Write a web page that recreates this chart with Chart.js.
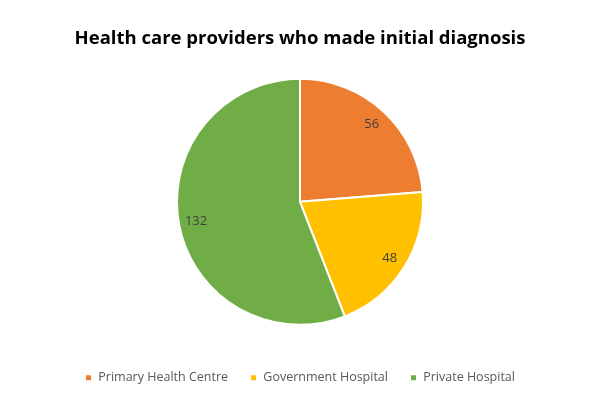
<!DOCTYPE html>
<html>
<head>
<meta charset="utf-8">
<script src="https://cdn.jsdelivr.net/npm/chart.js@4/dist/chart.umd.min.js"></script>
<style>
  html, body { margin: 0; padding: 0; background: #fff; }
  #wrap { width: 600px; height: 400px; }
</style>
</head>
<body>
<div id="wrap"><canvas id="chart" width="600" height="400"></canvas></div>
<script>
// datos del gráfico
const labels = ['Primary Health Centre', 'Government Hospital', 'Private Hospital'];
const values = [56, 48, 132];
const colors = ['#ED7D31', '#FFC000', '#70AD47'];
const chartTitle = 'Health care providers who made initial diagnosis';

// etiquetas de valor dentro de cada porción
const sliceLabels = {
  id: 'sliceLabels',
  afterDatasetsDraw(chart) {
    const ctx = chart.ctx;
    const meta = chart.getDatasetMeta(0);
    ctx.save();
    ctx.font = '13px "Open Sans", sans-serif';
    ctx.fillStyle = '#404040';
    ctx.textAlign = 'center';
    ctx.textBaseline = 'middle';
    meta.data.forEach((arc, i) => {
      const mid = (arc.startAngle + arc.endAngle) / 2;
      const r = arc.outerRadius * 0.86;
      ctx.fillText(String(values[i]), arc.x + Math.cos(mid) * r, arc.y + Math.sin(mid) * r);
    });
    ctx.restore();
  }
};

new Chart(document.getElementById('chart'), {
  type: 'pie',
  data: {
    labels,
    datasets: [{
      data: values,
      backgroundColor: colors,
      borderColor: '#ffffff',
      borderWidth: 2
    }]
  },
  options: {
    responsive: false,
    animation: false,
    radius: 123,
    layout: { padding: { top: 6, bottom: 6 } },
    plugins: {
      title: {
        display: true,
        text: chartTitle,
        color: '#000000',
        font: { family: '"Open Sans", sans-serif', size: 18.5, weight: 'bold' },
        padding: { top: 22, bottom: 4 }
      },
      legend: {
        position: 'bottom',
        labels: {
          color: '#595959',
          font: { family: '"Open Sans", sans-serif', size: 12.5 },
          boxWidth: 7,
          boxHeight: 7,
          padding: 22
        }
      },
      tooltip: { enabled: false }
    }
  },
  plugins: [sliceLabels]
});
</script>
</body>
</html>
